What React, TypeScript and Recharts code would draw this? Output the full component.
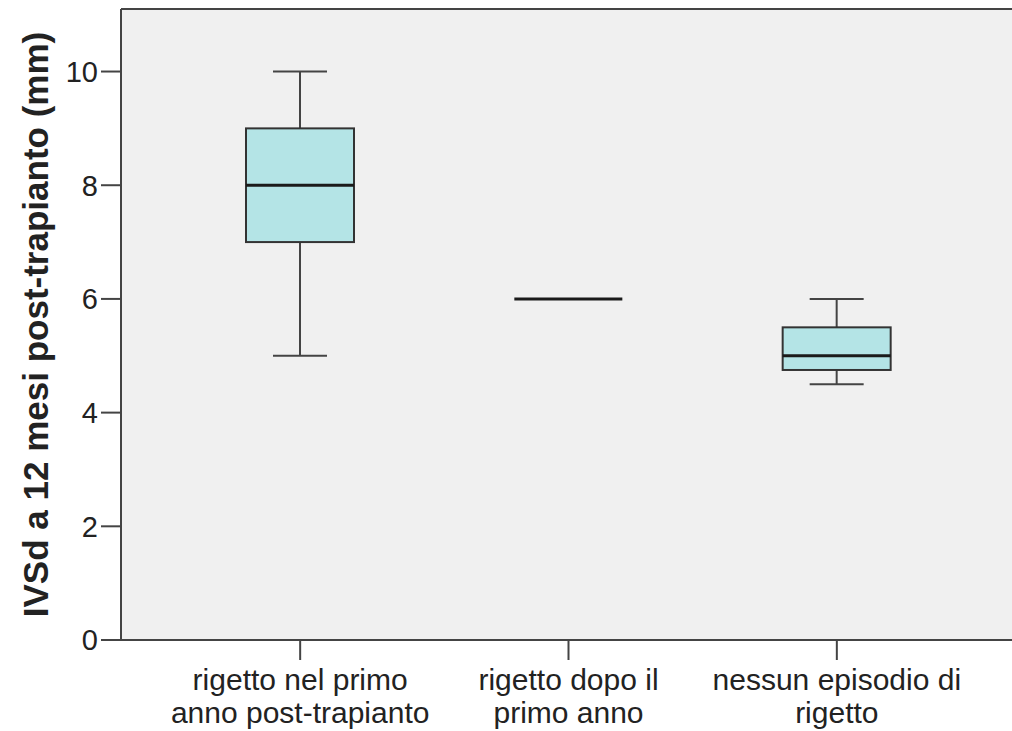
import { ComposedChart, Bar, XAxis, YAxis, CartesianGrid, ReferenceLine } from "recharts";

// Box plot summary per group (mm)
const GROUPS = [
  "rigetto nel primo anno post-trapianto",
  "rigetto dopo il primo anno",
  "nessun episodio di rigetto",
];
const TICK_LINES = [
  ["rigetto nel primo", "anno post-trapianto"],
  ["rigetto dopo il", "primo anno"],
  ["nessun episodio di", "rigetto"],
];
const MIN = [5, 6, 4.5];
const Q1 = [7, 6, 4.75];
const MEDIAN = [8, 6, 5];
const Q3 = [9, 6, 5.5];
const MAX = [10, 6, 6];
const Y_TICKS = [0, 2, 4, 6, 8, 10];
const Y_MAX = 11.1;

const data = GROUPS.map((group, i) => ({
  group,
  min: MIN[i],
  q1: Q1[i],
  median: MEDIAN[i],
  q3: Q3[i],
  max: MAX[i],
}));

const FONT = "'Liberation Sans', Arial, sans-serif";
const INK = "#222";
const AXIS = "#444";
const BOX_FILL = "#b4e4e6";

// The bar runs from 0 to max, so its pixel box gives the y mapping.
function BoxShape(props: any) {
  const { x, y, width, height, payload } = props;
  const { min, q1, median, q3, max } = payload;
  const py = (v: number) => y + (height * (max - v)) / max;
  const cx = x + width / 2;
  const cap = width / 4;
  if (q1 === q3) {
    return (
      <line x1={x} x2={x + width} y1={py(median)} y2={py(median)} stroke="#1a1a1a" strokeWidth={3} />
    );
  }
  return (
    <g>
      <line x1={cx} x2={cx} y1={py(max)} y2={py(q3)} stroke={AXIS} strokeWidth={2} />
      <line x1={cx} x2={cx} y1={py(q1)} y2={py(min)} stroke={AXIS} strokeWidth={2} />
      <line x1={cx - cap} x2={cx + cap} y1={py(max)} y2={py(max)} stroke={AXIS} strokeWidth={2} />
      <line x1={cx - cap} x2={cx + cap} y1={py(min)} y2={py(min)} stroke={AXIS} strokeWidth={2} />
      <rect
        x={x}
        y={py(q3)}
        width={width}
        height={py(q1) - py(q3)}
        fill={BOX_FILL}
        stroke="#333"
        strokeWidth={2}
      />
      <line x1={x} x2={x + width} y1={py(median)} y2={py(median)} stroke="#1a1a1a" strokeWidth={3} />
    </g>
  );
}

function GroupTick(props: any) {
  const { x, y, payload } = props;
  const lines = TICK_LINES[GROUPS.indexOf(payload.value)] ?? [payload.value];
  return (
    <text x={x} y={y} textAnchor="middle" fill={INK} fontSize={30} fontFamily={FONT}>
      {lines.map((line: string, i: number) => (
        <tspan key={i} x={x} dy={i === 0 ? 28 : 33}>
          {line}
        </tspan>
      ))}
    </text>
  );
}

export default function App() {
  return (
    <div style={{ position: "absolute", left: 0, top: 0, fontFamily: FONT }}>
      <ComposedChart width={1012} height={731} data={data} margin={{ top: 9, right: 0, bottom: 0, left: 0 }}>
        <CartesianGrid horizontal={false} vertical={false} fill="#f0f0f0" />
        <XAxis
          dataKey="group"
          interval={0}
          tickSize={20}
          tickMargin={2}
          padding={{ left: 45, right: 41 }}
          axisLine={{ stroke: AXIS, strokeWidth: 2 }}
          tickLine={{ stroke: AXIS, strokeWidth: 2 }}
          tick={<GroupTick />}
          height={91}
        />
        <YAxis
          type="number"
          domain={[0, Y_MAX]}
          ticks={Y_TICKS}
          width={121}
          tickSize={20}
          tickMargin={3}
          axisLine={{ stroke: AXIS, strokeWidth: 2 }}
          tickLine={{ stroke: AXIS, strokeWidth: 2 }}
          tick={{ fontSize: 29, fill: INK, fontFamily: FONT }}
          label={{
            value: "IVSd a 12 mesi post-trapianto (mm)",
            angle: -90,
            position: "center",
            dx: -25,
            style: { fontSize: 35, fontWeight: "bold", fill: INK, fontFamily: FONT },
          }}
        />
        <ReferenceLine y={Y_MAX} stroke={AXIS} strokeWidth={2} />
        <Bar dataKey="max" barSize={108} shape={<BoxShape />} isAnimationActive={false} />
      </ComposedChart>
    </div>
  );
}
